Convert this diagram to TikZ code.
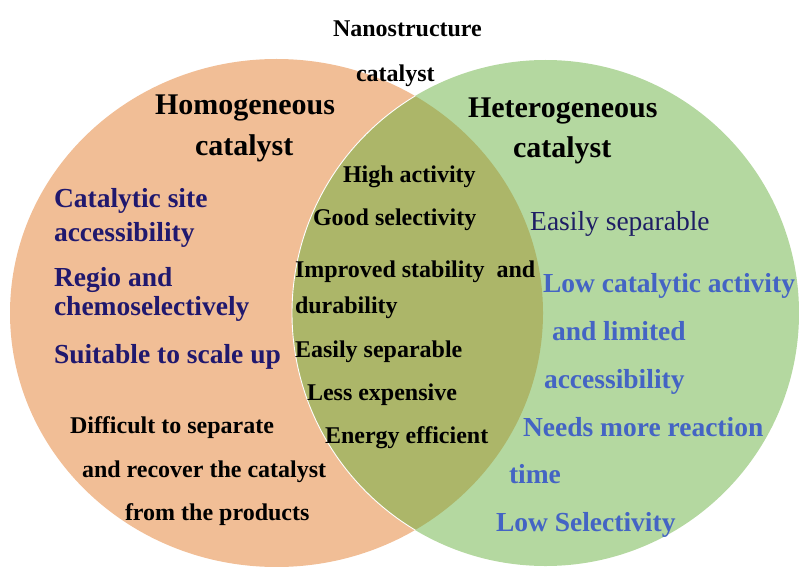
\documentclass[tikz,border=0pt]{standalone}
\usepackage{fontspec}
\setmainfont{Liberation Serif}
\definecolor{orangefill}{RGB}{241,190,150}
\definecolor{greenfill}{RGB}{180,216,160}
\definecolor{olivefill}{RGB}{172,182,105}
\definecolor{navytext}{RGB}{32,24,110}
\definecolor{navyreg}{RGB}{30,30,100}
\definecolor{bluetext}{RGB}{68,100,196}
\tikzset{
  lbl/.style={anchor=base west, inner sep=0pt, outer sep=0pt, font=\bfseries\fontsize{#1}{#1}\selectfont},
  lbl/.default=24,
  head/.style={lbl=30, text=black},
  midtxt/.style={lbl=24, text=black},
  lefttxt/.style={lbl=27.5, text=navytext},
  righttxt/.style={lbl=27.5, text=bluetext},
  leftshape/.style={x radius=266.5, y radius=254},
  rightshape/.style={x radius=253.5, y radius=253},
}
\begin{document}
\begin{tikzpicture}[x=1pt,y=1pt]
\useasboundingbox (0,0) rectangle (799,566);
\begin{scope}
\clip (0,0) rectangle (799,566);
\fill[orangefill] (276.5,253) ellipse [leftshape];
\fill[greenfill] (545.5,253) ellipse [rightshape];
\begin{scope}
\clip (276.5,253) ellipse [leftshape];
\fill[olivefill] (545.5,253) ellipse [rightshape];
\draw[white, line width=0.9pt] (545.5,253) ellipse [rightshape];
\end{scope}
\end{scope}
% top
\node[midtxt] (nano) at (333,529) {Nanostructure};
\node[midtxt] (nanocat) at (356,484) {catalyst};
% left
\node[head] (homo1) at (155,451) {Homogeneous};
\node[head] (homo2) at (195,411) {catalyst};
\node[lefttxt] (l1) at (54,359) {Catalytic site};
\node[lefttxt] (l2) at (54,325) {accessibility};
\node[lefttxt] (l3) at (54,280) {Regio and};
\node[lefttxt] (l4) at (54,251) {chemoselectively};
\node[lefttxt] (l5) at (54,203) {Suitable to scale up};
\node[midtxt] (d1) at (70,133) {Difficult to separate};
\node[midtxt] (d2) at (82,89) {and recover the catalyst};
\node[midtxt] (d3) at (125,46) {from the products};
% middle
\node[midtxt] (m1) at (343,384) {High activity};
\node[midtxt] (m2) at (313,341) {Good selectivity};
\node[midtxt] (m3) at (295,289) {Improved stability\ \ and};
\node[midtxt] (m4) at (295,253) {durability};
\node[midtxt] (m5) at (295,209) {Easily separable};
\node[midtxt] (m6) at (307,166) {Less expensive};
\node[midtxt] (m7) at (325,123) {Energy efficient};
% right
\node[head] (het1) at (468,448) {Heterogeneous};
\node[head] (het2) at (513,409) {catalyst};
\node[anchor=base west, inner sep=0pt, text=navyreg, font=\fontsize{27.5}{27.5}\selectfont] (r0) at (530,336) {Easily separable};
\node[righttxt] (r1) at (543,274) {Low catalytic activity};
\node[righttxt] (r2) at (552,226) {and limited};
\node[righttxt] (r3) at (544,178) {accessibility};
\node[righttxt] (r4) at (523,130) {Needs more reaction};
\node[righttxt] (r5) at (509,83) {time};
\node[righttxt] (r6) at (496,35) {Low Selectivity};
\end{tikzpicture}
\end{document}
